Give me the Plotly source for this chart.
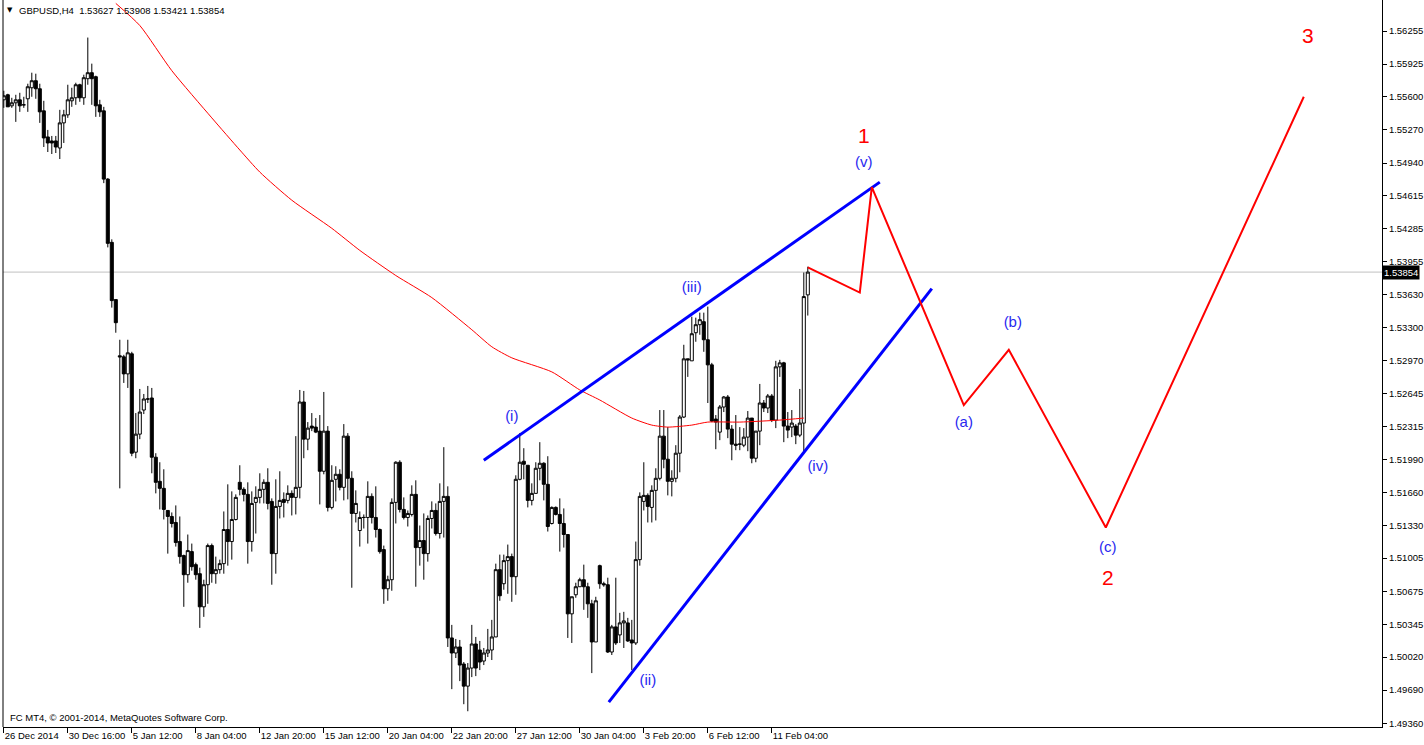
import plotly.graph_objects as go

# ---------------- data (H4 bars, index 0 = 26 Dec 2014) ----------------
bar_index = list(range(202))

opens = [
    1.5557, 1.5562, 1.5551, 1.5554, 1.5557, 1.5552, 1.5558, 1.5569, 1.5576, 1.5568,
    1.5546, 1.5520, 1.5516, 1.5516, 1.5509, 1.5534, 1.5542, 1.5556, 1.5559, 1.5572,
    1.5559, 1.5578, 1.5584, 1.5580, 1.5552, 1.5546, 1.5478, 1.5415, 1.5358, 1.5302,
    1.5301, 1.5284, 1.5304, 1.5206, 1.5224, 1.5248, 1.5259, 1.5260, 1.5201, 1.5177,
    1.5170, 1.5148, 1.5142, 1.5136, 1.5117, 1.5103, 1.5084, 1.5107, 1.5094, 1.5085,
    1.5052, 1.5074, 1.5113, 1.5085, 1.5089, 1.5095, 1.5129, 1.5117, 1.5139, 1.5176,
    1.5169, 1.5164, 1.5117, 1.5156, 1.5161, 1.5169, 1.5176, 1.5157, 1.5105, 1.5152,
    1.5159, 1.5158, 1.5165, 1.5161, 1.5171, 1.5256, 1.5219, 1.5232, 1.5231, 1.5227,
    1.5187, 1.5227, 1.5151, 1.5179, 1.5184, 1.5171, 1.5222, 1.5180, 1.5145, 1.5128,
    1.5141, 1.5141, 1.5162, 1.5141, 1.5129, 1.5109, 1.5070, 1.5079, 1.5156, 1.5196,
    1.5149, 1.5141, 1.5144, 1.5164, 1.5111, 1.5118, 1.5105, 1.5140, 1.5148, 1.5125,
    1.5157, 1.5162, 1.5021, 1.5006, 1.5012, 1.4995, 1.4973, 1.4991, 1.5015, 1.5009,
    1.4998, 1.5006, 1.5009, 1.5022, 1.5089, 1.5075, 1.5098, 1.5102, 1.5082, 1.5179,
    1.5197, 1.5193, 1.5158, 1.5165, 1.5190, 1.5195, 1.5174, 1.5135, 1.5151, 1.5144,
    1.5135, 1.5124, 1.5045, 1.5064, 1.5072, 1.5079, 1.5072, 1.5055, 1.5017, 1.5093,
    1.5075, 1.5074, 1.5007, 1.5032, 1.5024, 1.5036, 1.5036, 1.5019, 1.5016, 1.5099,
    1.5157, 1.5163, 1.5151, 1.5168, 1.5180, 1.5222, 1.5199, 1.5177, 1.5180, 1.5205,
    1.5241, 1.5299, 1.5297, 1.5325, 1.5333, 1.5336, 1.5318, 1.5293, 1.5239, 1.5226,
    1.5251, 1.5261, 1.5229, 1.5214, 1.5214, 1.5213, 1.5221, 1.5240, 1.5200, 1.5227,
    1.5255, 1.5250, 1.5262, 1.5238, 1.5291, 1.5295, 1.5232, 1.5231, 1.5232, 1.5223,
    1.5235, 1.53627,
]

highs = [
    1.5566, 1.5563, 1.5559, 1.5562, 1.5564, 1.5560, 1.5573, 1.5584, 1.5583, 1.5573,
    1.5556, 1.5527, 1.5521, 1.5521, 1.5547, 1.5547, 1.5572, 1.5569, 1.5574, 1.5573,
    1.5582, 1.5619, 1.5593, 1.5581, 1.5557, 1.5550, 1.5479, 1.5418, 1.5358, 1.5318,
    1.5303, 1.5318, 1.5306, 1.5245, 1.5269, 1.5264, 1.5272, 1.5270, 1.5205, 1.5196,
    1.5189, 1.5148, 1.5146, 1.5153, 1.5142, 1.5104, 1.5124, 1.5115, 1.5096, 1.5091,
    1.5079, 1.5115, 1.5115, 1.5102, 1.5099, 1.5147, 1.5174, 1.5167, 1.5164, 1.5193,
    1.5171, 1.5176, 1.5167, 1.5172, 1.5185, 1.5179, 1.5190, 1.5160, 1.5179, 1.5187,
    1.5166, 1.5173, 1.5168, 1.5222, 1.5268, 1.5267, 1.5236, 1.5245, 1.5240, 1.5243,
    1.5266, 1.5232, 1.5193, 1.5192, 1.5189, 1.5234, 1.5225, 1.5187, 1.5168, 1.5147,
    1.5144, 1.5177, 1.5165, 1.5172, 1.5130, 1.5113, 1.5083, 1.5160, 1.5197, 1.5198,
    1.5161, 1.5148, 1.5173, 1.5178, 1.5133, 1.5145, 1.5143, 1.5157, 1.5155, 1.5175,
    1.5211, 1.5172, 1.5034, 1.5020, 1.5019, 1.4997, 1.4996, 1.5034, 1.5022, 1.5018,
    1.5011, 1.5030, 1.5039, 1.5095, 1.5104, 1.5104, 1.5114, 1.5105, 1.5183, 1.5225,
    1.5210, 1.5193, 1.5175, 1.5196, 1.5216, 1.5196, 1.5202, 1.5152, 1.5152, 1.5160,
    1.5150, 1.5124, 1.5062, 1.5076, 1.5081, 1.5094, 1.5076, 1.5059, 1.5062, 1.5094,
    1.5077, 1.5081, 1.5034, 1.5081, 1.5046, 1.5047, 1.5041, 1.5039, 1.5117, 1.5166,
    1.5196, 1.5165, 1.5173, 1.5190, 1.5248, 1.5248, 1.5231, 1.5188, 1.5213, 1.5243,
    1.5313, 1.5299, 1.5341, 1.5340, 1.5345, 1.5345, 1.5351, 1.5295, 1.5243, 1.5253,
    1.5262, 1.5263, 1.5233, 1.5243, 1.5231, 1.5230, 1.5247, 1.5240, 1.5227, 1.5274,
    1.5258, 1.5264, 1.5264, 1.5297, 1.5298, 1.5296, 1.5246, 1.5248, 1.5234, 1.5269,
    1.5385, 1.53908,
]

lows = [
    1.5549, 1.5550, 1.5549, 1.5535, 1.5545, 1.5549, 1.5545, 1.5560, 1.5558, 1.5534,
    1.5510, 1.5505, 1.5503, 1.5504, 1.5498, 1.5514, 1.5539, 1.5550, 1.5552, 1.5555,
    1.5552, 1.5572, 1.5552, 1.5540, 1.5540, 1.5474, 1.5410, 1.5350, 1.5325, 1.5170,
    1.5275, 1.5270, 1.5202, 1.5200, 1.5219, 1.5244, 1.5255, 1.5185, 1.5165, 1.5149,
    1.5139, 1.5105, 1.5131, 1.5112, 1.5095, 1.5052, 1.5076, 1.5088, 1.5079, 1.5031,
    1.5042, 1.5055, 1.5076, 1.5075, 1.5085, 1.5085, 1.5093, 1.5099, 1.5138, 1.5163,
    1.5157, 1.5095, 1.5107, 1.5125, 1.5155, 1.5155, 1.5149, 1.5074, 1.5085, 1.5140,
    1.5141, 1.5155, 1.5143, 1.5144, 1.5160, 1.5200, 1.5208, 1.5227, 1.5225, 1.5154,
    1.5184, 1.5147, 1.5149, 1.5157, 1.5168, 1.5158, 1.5159, 1.5071, 1.5136, 1.5112,
    1.5130, 1.5115, 1.5135, 1.5121, 1.5105, 1.5055, 1.5058, 1.5068, 1.5135, 1.5146,
    1.5139, 1.5132, 1.5142, 1.5072, 1.5093, 1.5079, 1.5097, 1.5130, 1.5123, 1.5120,
    1.5121, 1.5012, 1.4970, 1.5001, 1.4978, 1.4955, 1.4948, 1.4982, 1.4983, 1.4989,
    1.4994, 1.5002, 1.4999, 1.5022, 1.5058, 1.5069, 1.5065, 1.5057, 1.5064, 1.5178,
    1.5179, 1.5151, 1.5153, 1.5165, 1.5178, 1.5158, 1.5127, 1.5134, 1.5143, 1.5107,
    1.5111, 1.5021, 1.5016, 1.5061, 1.5072, 1.5049, 1.5041, 1.4986, 1.5017, 1.5070,
    1.5072, 1.5006, 1.5004, 1.5014, 1.5016, 1.5011, 1.5017, 1.4989, 1.5014, 1.5093,
    1.5148, 1.5136, 1.5136, 1.5138, 1.5178, 1.5190, 1.5163, 1.5162, 1.5176, 1.5186,
    1.5240, 1.5281, 1.5297, 1.5316, 1.5323, 1.5306, 1.5255, 1.5236, 1.5209, 1.5218,
    1.5246, 1.5220, 1.5198, 1.5208, 1.5208, 1.5211, 1.5207, 1.5195, 1.5196, 1.5213,
    1.5246, 1.5245, 1.5236, 1.5230, 1.5281, 1.5216, 1.5220, 1.5221, 1.5214, 1.5221,
    1.5206, 1.53421,
]

closes = [
    1.5561, 1.5550, 1.5554, 1.5557, 1.5551, 1.5552, 1.5570, 1.5576, 1.5568, 1.5545,
    1.5519, 1.5514, 1.5514, 1.5510, 1.5534, 1.5542, 1.5557, 1.5559, 1.5572, 1.5559,
    1.5579, 1.5584, 1.5578, 1.5551, 1.5545, 1.5478, 1.5414, 1.5357, 1.5335, 1.5301,
    1.5284, 1.5305, 1.5205, 1.5224, 1.5246, 1.5259, 1.5259, 1.5201, 1.5176, 1.5170,
    1.5149, 1.5142, 1.5135, 1.5116, 1.5102, 1.5084, 1.5108, 1.5092, 1.5084, 1.5052,
    1.5074, 1.5113, 1.5085, 1.5089, 1.5095, 1.5129, 1.5117, 1.5139, 1.5161, 1.5169,
    1.5164, 1.5117, 1.5155, 1.5161, 1.5169, 1.5176, 1.5155, 1.5105, 1.5152, 1.5158,
    1.5156, 1.5165, 1.5161, 1.5171, 1.5256, 1.5219, 1.5230, 1.5230, 1.5226, 1.5187,
    1.5227, 1.5151, 1.5178, 1.5184, 1.5171, 1.5222, 1.5180, 1.5145, 1.5155, 1.5141,
    1.5141, 1.5162, 1.5141, 1.5129, 1.5107, 1.5070, 1.5079, 1.5156, 1.5196, 1.5149,
    1.5141, 1.5145, 1.5164, 1.5111, 1.5118, 1.5105, 1.5140, 1.5148, 1.5125, 1.5157,
    1.5162, 1.5021, 1.5006, 1.5012, 1.4994, 1.4973, 1.4991, 1.5015, 1.4991, 1.4997,
    1.5006, 1.5009, 1.5022, 1.5089, 1.5063, 1.5098, 1.5102, 1.5082, 1.5179, 1.5196,
    1.5194, 1.5158, 1.5165, 1.5190, 1.5195, 1.5174, 1.5132, 1.5151, 1.5144, 1.5135,
    1.5124, 1.5045, 1.5062, 1.5072, 1.5079, 1.5072, 1.5055, 1.5017, 1.5058, 1.5075,
    1.5074, 1.5007, 1.5032, 1.5016, 1.5036, 1.5038, 1.5018, 1.5016, 1.5099, 1.5162,
    1.5163, 1.5152, 1.5168, 1.5180, 1.5222, 1.5199, 1.5177, 1.5180, 1.5205, 1.5241,
    1.5299, 1.5298, 1.5324, 1.5333, 1.5338, 1.5318, 1.5293, 1.5237, 1.5236, 1.5251,
    1.5261, 1.5229, 1.5214, 1.5213, 1.5214, 1.5221, 1.5240, 1.5200, 1.5227, 1.5255,
    1.5250, 1.5262, 1.5238, 1.5291, 1.5295, 1.5232, 1.5228, 1.5235, 1.5223, 1.5235,
    1.5361, 1.53854,
]

# moving average (red line), read at sampled bars
ma_bars = [28, 34, 42, 52, 59, 64, 72, 82, 89, 98, 107, 117, 122, 127, 137, 144,
           149, 157, 162, 166, 172, 176, 184, 194, 200]
ma_values = [1.5653, 1.5631, 1.5586, 1.5539, 1.5507, 1.5485, 1.5457, 1.5429, 1.5407,
             1.5382, 1.5360, 1.5328, 1.5311, 1.5300, 1.5286, 1.5268, 1.5258, 1.5240,
             1.5233, 1.5231, 1.5233, 1.5236, 1.5236, 1.5238, 1.5240]

# wave projection (red path)
wave_bars = [201, 214, 217, 240, 251.25, 275.5, 325]
wave_prices = [1.5390, 1.5365, 1.5470, 1.5253, 1.5308, 1.5131, 1.5560]

# channel lines (blue)
upper_bars = [120, 219]
upper_prices = [1.5198, 1.5475]
lower_bars = [151.25, 232]
lower_prices = [1.4957, 1.5369]

# wave labels
blue_labels = ["(i)", "(ii)", "(iii)", "(iv)", "(v)", "(a)", "(b)", "(c)"]
blue_label_bars = [127, 161, 172, 203.5, 215, 240, 252.25, 276]
blue_label_prices = [1.5241, 1.4978, 1.5369, 1.5191, 1.5494, 1.5235, 1.5334, 1.5110]
red_labels = ["1", "2", "3"]
red_label_bars = [215, 276, 326]
red_label_prices = [1.5519, 1.5079, 1.5619]

# axes
y_ticks = [1.56255, 1.55925, 1.55600, 1.55270, 1.54940, 1.54615, 1.54285, 1.53955,
           1.53630, 1.53300, 1.52970, 1.52645, 1.52315, 1.51990, 1.51660, 1.51330,
           1.51005, 1.50675, 1.50345, 1.50020, 1.49690, 1.49360]
x_tick_bars = [0, 16, 32, 48, 64, 80, 96, 112, 128, 144, 160, 176, 192]
x_tick_labels = ["26 Dec 2014", "30 Dec 16:00", "5 Jan 12:00", "8 Jan 04:00",
                 "12 Jan 20:00", "15 Jan 12:00", "20 Jan 04:00", "22 Jan 20:00",
                 "27 Jan 12:00", "30 Jan 04:00", "3 Feb 20:00", "6 Feb 12:00",
                 "11 Feb 04:00"]
last_price = 1.53854

# ---------------- figure ----------------
FONT = "Liberation Sans, Arial, sans-serif"
BLUE = "#0000FF"
RED = "#FF0000"

fig = go.Figure()

fig.add_trace(go.Candlestick(
    x=bar_index, open=opens, high=highs, low=lows, close=closes,
    increasing=dict(line=dict(color="black", width=1), fillcolor="white"),
    decreasing=dict(line=dict(color="black", width=1), fillcolor="black"),
    whiskerwidth=0, showlegend=False, hoverinfo="skip",
))

fig.add_trace(go.Scatter(
    x=ma_bars, y=ma_values, mode="lines",
    line=dict(color=RED, width=1, shape="spline", smoothing=0.6),
    showlegend=False, hoverinfo="skip",
))

fig.add_trace(go.Scatter(x=upper_bars, y=upper_prices, mode="lines",
                         line=dict(color=BLUE, width=3), showlegend=False, hoverinfo="skip"))
fig.add_trace(go.Scatter(x=lower_bars, y=lower_prices, mode="lines",
                         line=dict(color=BLUE, width=3), showlegend=False, hoverinfo="skip"))
fig.add_trace(go.Scatter(x=wave_bars, y=wave_prices, mode="lines",
                         line=dict(color=RED, width=2), showlegend=False, hoverinfo="skip"))

fig.add_trace(go.Scatter(
    x=blue_label_bars, y=blue_label_prices, mode="text", text=blue_labels,
    textfont=dict(family=FONT, size=15, color="#2828F0"),
    textposition="middle center", showlegend=False, hoverinfo="skip",
))
fig.add_trace(go.Scatter(
    x=red_label_bars, y=red_label_prices, mode="text", text=red_labels,
    textfont=dict(family=FONT, size=21, color=RED),
    textposition="middle center", showlegend=False, hoverinfo="skip",
))

# current price line
fig.add_shape(type="line", xref="paper", x0=0, x1=1, yref="y", y0=last_price, y1=last_price,
              line=dict(color="#C0C0C0", width=1), layer="below")
# left frame line
fig.add_shape(type="line", xref="paper", x0=0, x1=0, yref="paper", y0=0, y1=1,
              line=dict(color="black", width=1))

annotations = [
    dict(xref="paper", yref="y", x=1.0, y=last_price, xanchor="left", yanchor="middle",
         text="1.53854", showarrow=False, bgcolor="black", borderpad=1,
         font=dict(family=FONT, size=9.5, color="white")),
    dict(xref="paper", yref="paper", x=0.0050, y=0.9862, xanchor="center", yanchor="middle",
         text="▼", showarrow=False, font=dict(family="DejaVu Sans", size=7, color="black")),
    dict(xref="paper", yref="paper", x=0.0105, y=0.9862, xanchor="left", yanchor="middle",
         text="GBPUSD,H4  1.53627 1.53908 1.53421 1.53854", showarrow=False,
         font=dict(family=FONT, size=9.5, color="black")),
    dict(xref="paper", yref="paper", x=0.0033, y=0.0124, xanchor="left", yanchor="middle",
         text="FC MT4, © 2001-2014, MetaQuotes Software Corp.", showarrow=False,
         font=dict(family=FONT, size=9.5, color="black")),
]

fig.update_layout(
    width=1424, height=745, autosize=False,
    margin=dict(l=3, r=42, t=0, b=18, pad=0),
    paper_bgcolor="white", plot_bgcolor="white",
    boxgap=0.2, boxgroupgap=0.05,
    showlegend=False,
    annotations=annotations,
    font=dict(family=FONT, size=9.5, color="black"),
    xaxis=dict(
        range=[-0.2, 344.55], rangeslider=dict(visible=False),
        showgrid=False, zeroline=False,
        tickmode="array", tickvals=x_tick_bars, ticktext=x_tick_labels,
        ticks="outside", ticklen=5, tickcolor="black", tickwidth=1,
        tickangle=0, automargin=False,
        ticklabelposition="outside right",
        showline=True, linecolor="black", linewidth=1,
        tickfont=dict(family=FONT, size=9.5, color="black"),
        fixedrange=True,
    ),
    yaxis=dict(
        side="right", range=[1.49323, 1.56564],
        showgrid=False, zeroline=False, automargin=False,
        tickmode="array", tickvals=y_ticks, ticktext=[f"{v:.5f}" for v in y_ticks],
        ticks="outside", ticklen=4, tickcolor="black", tickwidth=1,
        showline=True, linecolor="black", linewidth=1,
        tickfont=dict(family=FONT, size=9.5, color="black"),
        fixedrange=True,
    ),
)

fig.write_html("out.html", config={"displayModeBar": False},
               post_script="document.body.style.margin='0';document.body.style.overflow='hidden';")
